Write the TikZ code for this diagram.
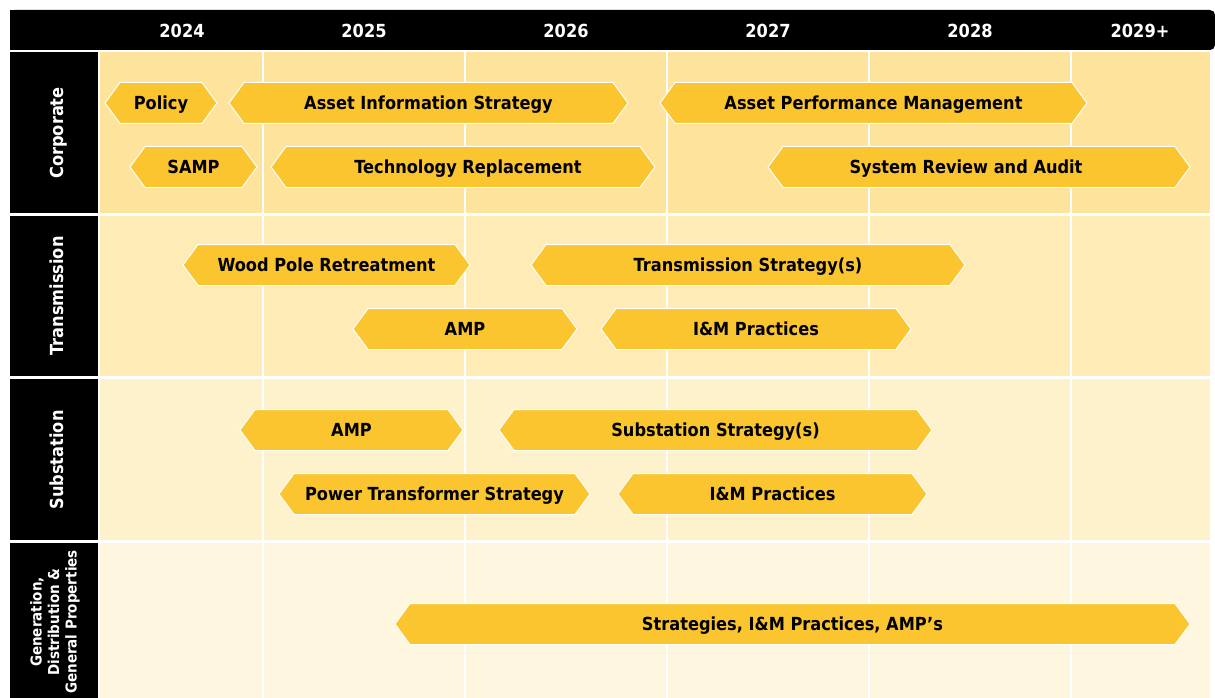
\documentclass[tikz,border=0pt]{standalone}
\usepackage{fontspec}
\setmainfont{DejaVu Sans}[FakeStretch=0.9]
\definecolor{barfill}{HTML}{FBC52F}
\definecolor{bgcorp}{HTML}{FEE39C}
\definecolor{bgtrans}{HTML}{FEEBB5}
\definecolor{bgsub}{HTML}{FEF2CD}
\definecolor{bggen}{HTML}{FEF6DF}
% hexagonal phase bar: [text shift], name, left x, right x, centre y, text
\newcommand\phasebar[6][0]{%
  \fill[barfill, draw=white, line width=1pt]
    (#3,#5) -- ({#3+15},{#5-20.5}) -- ({#4-15},{#5-20.5}) -- (#4,#5)
    -- ({#4-15},{#5+20.5}) -- ({#3+15},{#5+20.5}) -- cycle;
  \node[bartext, anchor=base] (#2) at ({(#3+#4)/2+#1},{#5+6.5}) {#6};}
\begin{document}
\begin{tikzpicture}[x=1pt,y=-1pt,
  bartext/.style={font=\fontsize{18}{20}\selectfont\bfseries, text=black, inner sep=0pt},
  yeartext/.style={font=\fontsize{18}{20}\selectfont\bfseries, text=white, inner sep=0pt, anchor=base},
  rowtext/.style={font=\fontsize{18}{20}\selectfont\bfseries, text=white, inner sep=0pt, rotate=90, align=center},
  gridline/.style={draw=white, line width=2pt}]
\useasboundingbox (0,0) rectangle (1215,698);
\fill[white] (0,0) rectangle (1215,698);

% header bar
\fill[black, rounded corners=5pt] (10,10) -- (1215,10) -- (1215,50) -- (10,50) -- cycle;
\fill[black] (10,10) rectangle (30,50);

% row backgrounds
\fill[bgcorp]  (100,52)  rectangle (1210,213);
\fill[bgtrans] (100,216) rectangle (1210,376);
\fill[bgsub]   (100,379) rectangle (1210,540);
\fill[bggen]   (100,543) rectangle (1210,698);

% year column separators
\foreach \x in {263,465,667,869,1071}
  \draw[gridline] (\x,52) -- (\x,698);

% row label blocks
\fill[black] (10,52)  rectangle (98,213);
\fill[black] (10,216) rectangle (98,376);
\fill[black] (10,379) rectangle (98,540);
\fill[black] (10,543) rectangle (98,698);

\node[rowtext, text height=13pt, text depth=0pt] (corp)  at (57,133) {Corporate};
\node[rowtext, text height=13pt, text depth=0pt] (trans) at (57,296) {Transmission};
\node[rowtext, text height=13pt, text depth=0pt] (sub)   at (57,460) {Substation};
\node[rowtext, font=\fontsize{15}{17.5}\selectfont\bfseries] (gen) at (55,622)
  {Generation,\\Distribution \&\\General Properties};

% years
\node[yeartext] (y24) at (182,37.5) {2024};
\node[yeartext] (y25) at (364,37.5) {2025};
\node[yeartext] (y26) at (566,37.5) {2026};
\node[yeartext] (y27) at (768,37.5) {2027};
\node[yeartext] (y28) at (970,37.5) {2028};
\node[yeartext] (y29) at (1140,37.5) {2029+};

% corporate
\phasebar{policy}{105}{217}{103}{Policy}
\phasebar{ais}{229}{628}{103}{Asset Information Strategy}
\phasebar{apm}{660}{1087}{103}{Asset Performance Management}
\phasebar{samp}{130}{257}{167}{SAMP}
\phasebar[5]{tech}{271}{655}{167}{Technology Replacement}
\phasebar[-13]{sra}{768}{1190}{167}{System Review and Audit}

% transmission
\phasebar{wood}{183}{470}{265}{Wood Pole Retreatment}
\phasebar{tstrat}{531}{965}{265}{Transmission Strategy(s)}
\phasebar{tamp}{353}{577}{329}{AMP}
\phasebar{tim}{601}{911}{329}{I\&M Practices}

% substation
\phasebar{samp2}{240}{463}{430}{AMP}
\phasebar{sstrat}{499}{932}{430}{Substation Strategy(s)}
\phasebar{pts}{279}{590}{494}{Power Transformer Strategy}
\phasebar{sim}{618}{927}{494}{I\&M Practices}

% generation, distribution and general properties
\phasebar{gen}{395}{1190}{624}{Strategies, I\&M Practices, AMP’s}
\end{tikzpicture}
\end{document}
